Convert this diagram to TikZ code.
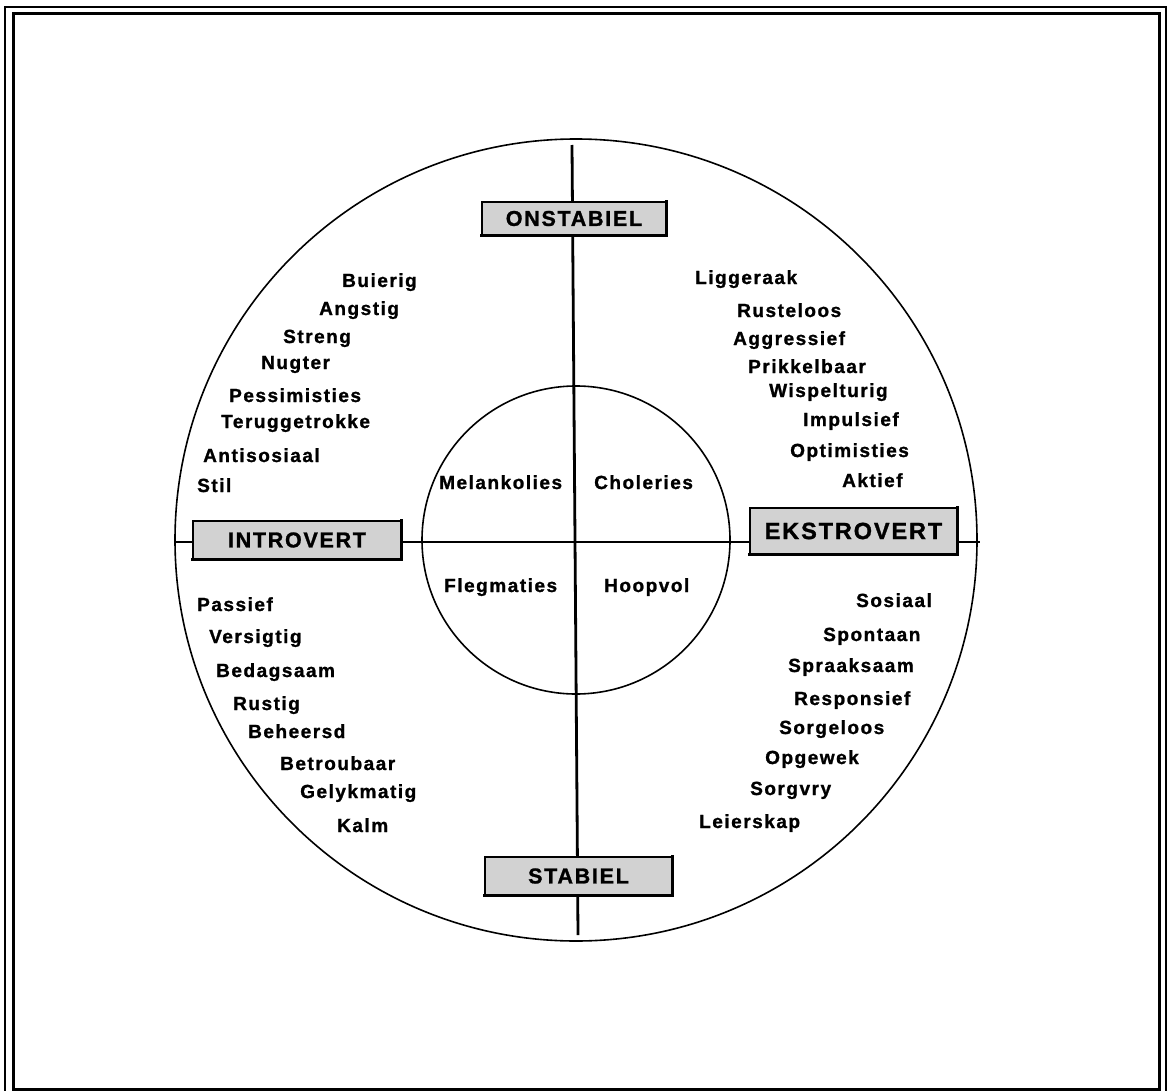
\documentclass[tikz,border=0pt]{standalone}
\usepackage{fontspec}
\setmainfont{Liberation Sans}[LetterSpace=8,FakeBold=1.2]
\begin{document}
\begin{tikzpicture}[x=1pt,y=-1pt,
  word/.style={anchor=base west,inner sep=0pt,font=\fontsize{19}{22}\selectfont\bfseries},
  axisbox/.style={draw=black,line width=1.8pt,fill=gray!35,inner sep=0pt,
     font=\fontsize{21.5}{24}\selectfont\bfseries},
  shadowline/.style={line width=3pt,line cap=rect},
  axisline/.style={line width=2.8pt},
  ring/.style={line width=1.6pt}]
\useasboundingbox (0,0) rectangle (1169,1091);
% double frame
\draw[line width=2.6pt] (5,7) rectangle (1166,1096);
\draw[line width=3pt] (13,14) rectangle (1159,1089);
% circles
\node[circle,draw,ring,minimum size=802pt,inner sep=0pt] (outer) at (576,540) {};
\node[circle,draw,ring,minimum size=308pt,inner sep=0pt] (inner) at (576,540) {};
% axes
\coordinate (vtop) at (572,145);
\coordinate (vbot) at (578,935);
\coordinate (hleft) at (174,542);
\coordinate (hright) at (980,542);
\draw[axisline] (vtop) -- (vbot);
\draw[axisline] (hleft) -- (hright);
% axis boxes
\node[axisbox,minimum width=184pt,minimum height=33pt] (on) at (574,218.5) {ONSTABIEL};
\node[axisbox,minimum width=208pt,minimum height=38pt] (intro) at (297,540) {INTROVERT};
\node[axisbox,minimum width=207pt,minimum height=46pt,font=\fontsize{23.5}{26}\selectfont\bfseries] (eks) at (853.5,531) {EKSTROVERT};
\node[axisbox,minimum width=187pt,minimum height=38pt] (stab) at (578.5,876) {STABIEL};
\foreach \b in {on,intro,eks,stab}
  \draw[shadowline] (\b.south west) -- (\b.south east) -- (\b.north east);
% temperaments
\node[word] (mel) at (439,489) {Melankolies};
\node[word] (cho) at (594,489) {Choleries};
\node[word] (fle) at (444,592) {Flegmaties};
\node[word] (hoo) at (604,592) {Hoopvol};
% top-left
\node[word] (w1) at (342,287) {Buierig};
\node[word] (w2) at (319,315) {Angstig};
\node[word] (w3) at (283,343) {Streng};
\node[word] (w4) at (261,369) {Nugter};
\node[word] (w5) at (229,402) {Pessimisties};
\node[word] (w6) at (221,428) {Teruggetrokke};
\node[word] (w7) at (203,462) {Antisosiaal};
\node[word] (w8) at (197,492) {Stil};
% top-right
\node[word] (r1) at (695,284) {Liggeraak};
\node[word] (r2) at (737,317) {Rusteloos};
\node[word] (r3) at (733,345) {Aggressief};
\node[word] (r4) at (748,373) {Prikkelbaar};
\node[word] (r5) at (769,397) {Wispelturig};
\node[word] (r6) at (803,426) {Impulsief};
\node[word] (r7) at (790,457) {Optimisties};
\node[word] (r8) at (842,487) {Aktief};
% bottom-left
\node[word] (b1) at (197,611) {Passief};
\node[word] (b2) at (209,643) {Versigtig};
\node[word] (b3) at (216,677) {Bedagsaam};
\node[word] (b4) at (233,710) {Rustig};
\node[word] (b5) at (248,738) {Beheersd};
\node[word] (b6) at (280,770) {Betroubaar};
\node[word] (b7) at (300,798) {Gelykmatig};
\node[word] (b8) at (337,832) {Kalm};
% bottom-right
\node[word] (s1) at (856,607) {Sosiaal};
\node[word] (s2) at (823,641) {Spontaan};
\node[word] (s3) at (788,672) {Spraaksaam};
\node[word] (s4) at (794,705) {Responsief};
\node[word] (s5) at (779,734) {Sorgeloos};
\node[word] (s6) at (765,764) {Opgewek};
\node[word] (s7) at (750,795) {Sorgvry};
\node[word] (s8) at (699,828) {Leierskap};
\end{tikzpicture}
\end{document}
